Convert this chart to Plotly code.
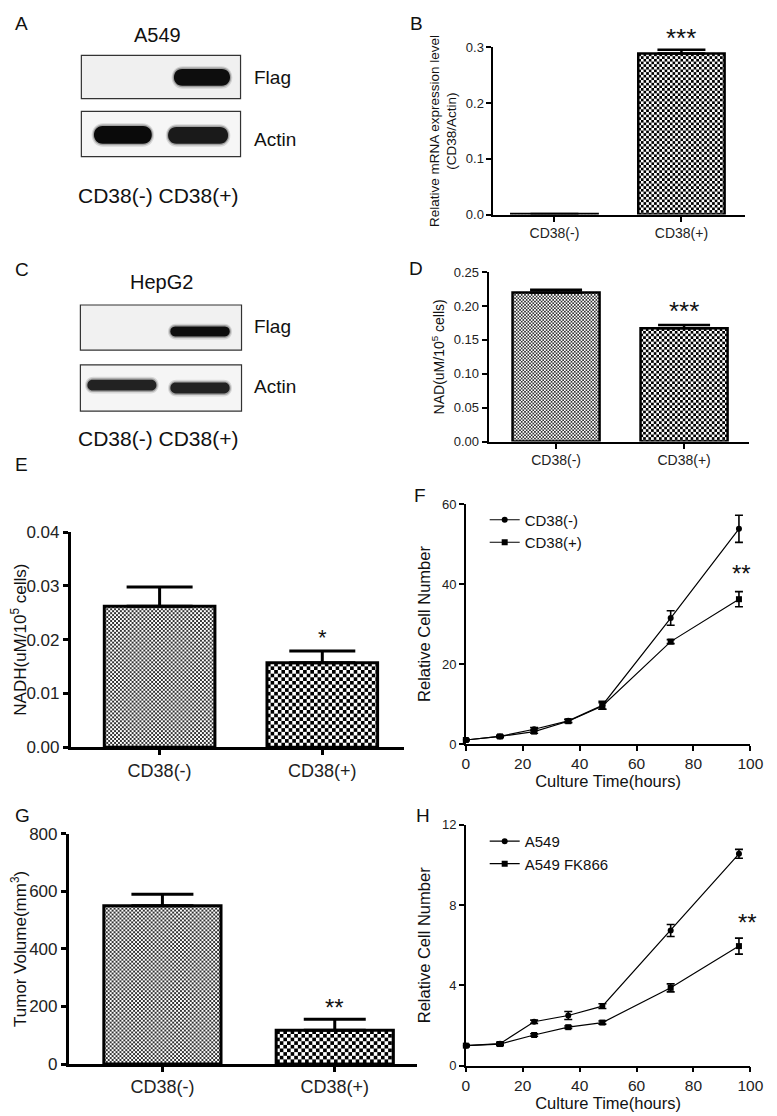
import base64
import plotly.graph_objects as go

# The page body keeps its default 8px margin, so the figure is sized to fill
# the remaining 769x1108 area; reference pixel positions are shifted by OFF.
OFF = 8
FIG_W, FIG_H = 777 - OFF, 1116 - OFF
FONT = "Liberation Sans, Arial, sans-serif"


def px_x(px):
    return (px - OFF) / FIG_W


def px_y(py):
    return 1 - (py - OFF) / FIG_H


# ---------------- data ----------------
categories = ["CD38(-)", "CD38(+)"]

# B: relative mRNA expression (CD38/Actin)
mrna = [0.001, 0.289]
mrna_err = [0.0, 0.007]

# D: NAD (uM/10^5 cells)
nad = [0.220, 0.167]
nad_err = [0.004, 0.005]

# E: NADH (uM/10^5 cells)
nadh = [0.0262, 0.0157]
nadh_err = [0.0036, 0.0022]

# G: tumor volume (mm^3)
tumor = [550, 117]
tumor_err = [40, 39]

# F: growth curves CD38(-)/CD38(+)
time_h = [0, 12, 24, 36, 48, 72, 96]
f_neg = [1.0, 1.9, 3.7, 5.8, 9.7, 31.5, 53.8]
f_neg_err = [0.2, 0.3, 0.4, 0.4, 1.0, 1.8, 3.4]
f_pos = [1.0, 1.9, 3.1, 5.7, 9.5, 25.6, 36.2]
f_pos_err = [0.2, 0.2, 0.4, 0.4, 0.8, 0.5, 1.9]

# H: growth curves A549 / A549 FK866
h_a549 = [1.0, 1.1, 2.19, 2.5, 2.97, 6.74, 10.56]
h_a549_err = [0.05, 0.05, 0.08, 0.2, 0.12, 0.3, 0.22]
h_fk = [1.0, 1.08, 1.53, 1.92, 2.15, 3.88, 5.96]
h_fk_err = [0.05, 0.08, 0.06, 0.06, 0.08, 0.2, 0.4]

line_names_f = ["CD38(-)", "CD38(+)"]
line_names_h = ["A549", "A549 FK866"]

BAR_W = 0.68

fig = go.Figure()
images = []

# ---------- axes geometry (reference pixels) ----------
# name: (left, right, top, bottom, xrange, yrange)
GEOM = {
    "B": (500, 758, 39, 209, [-0.48, 1.504], [0, 0.3]),
    "D": (495, 762, 267.5, 440, [-0.527, 1.51], [0, 0.25]),
    "E": (67, 408, 532, 751, [-0.547, 1.50], [0, 0.04]),
    "F": (471.7, 763, 503.5, 747.7, [0, 100], [0, 60]),
    "G": (65, 422, 839, 1073.3, [-0.544, 1.479], [0, 800]),
    "H": (471.7, 763, 830, 1075, [0, 100], [0, 12]),
}


def checker_src(pw, ph, cell, color):
    c2 = 2 * cell
    svg = (f"<svg xmlns='http://www.w3.org/2000/svg' width='{pw:.1f}' height='{ph:.1f}' "
           f"viewBox='0 0 {pw:.1f} {ph:.1f}' preserveAspectRatio='none'>"
           f"<defs><pattern id='p' width='{c2}' height='{c2}' patternUnits='userSpaceOnUse'>"
           f"<rect width='{c2}' height='{c2}' fill='white'/>"
           f"<rect width='{cell}' height='{cell}' fill='{color}'/>"
           f"<rect x='{cell}' y='{cell}' width='{cell}' height='{cell}' fill='{color}'/>"
           f"</pattern></defs><rect width='100%' height='100%' fill='url(#p)'/></svg>")
    return "data:image/svg+xml;base64," + base64.b64encode(svg.encode()).decode()


def add_bars(panel, vals, errs, xa, ya, lw, capw, thick, cells):
    l, r, t, b, xr, yr = GEOM[panel]
    pxu_x = (r - l) / (xr[1] - xr[0])
    pxu_y = (b - t) / (yr[1] - yr[0])
    xs = list(range(len(vals)))
    for i, v in enumerate(vals):
        pw = BAR_W * pxu_x
        ph = max(v * pxu_y, 1)
        cell, col = cells[i]
        images.append(dict(source=checker_src(pw, ph, cell, col), xref=xa, yref=ya,
                           x=xs[i] - BAR_W / 2, y=v, sizex=BAR_W, sizey=v,
                           xanchor="left", yanchor="top", sizing="stretch",
                           layer="below"))
    fig.add_trace(go.Bar(
        x=xs, y=vals, width=BAR_W, xaxis=xa, yaxis=ya,
        marker=dict(color="rgba(0,0,0,0)", line=dict(color="black", width=lw)),
        error_y=dict(type="data", symmetric=False, array=errs,
                     arrayminus=[0] * len(errs), color="black",
                     thickness=thick, width=capw),
        showlegend=False, cliponaxis=False,
    ))


small_cells = [(1.7, "#333"), (2.7, "#000")]
big_cells = [(2.0, "#333"), (3.7, "#000")]
add_bars("B", mrna, mrna_err, "x", "y", 2.5, 24, 2.5, small_cells)
add_bars("D", nad, nad_err, "x2", "y2", 2.5, 26, 2.5, small_cells)
add_bars("E", nadh, nadh_err, "x3", "y3", 3, 33, 3, big_cells)
add_bars("G", tumor, tumor_err, "x5", "y5", 3, 31, 3, big_cells)

# ---------- line panels ----------


def add_line(xv, yv, ev, name, sym, xa, ya, lg):
    fig.add_trace(go.Scatter(
        x=xv, y=yv, name=name, mode="lines+markers", xaxis=xa, yaxis=ya,
        line=dict(color="black", width=1.2),
        marker=dict(symbol=sym, size=6, color="black"),
        error_y=dict(type="data", array=ev, color="black", thickness=1.6, width=4),
        cliponaxis=False, legend=lg,
    ))


add_line(time_h, f_neg, f_neg_err, line_names_f[0], "circle", "x4", "y4", "legend")
add_line(time_h, f_pos, f_pos_err, line_names_f[1], "square", "x4", "y4", "legend")
add_line(time_h, h_a549, h_a549_err, line_names_h[0], "circle", "x6", "y6", "legend2")
add_line(time_h, h_fk, h_fk_err, line_names_h[1], "square", "x6", "y6", "legend2")

# ---------- axes ----------


def xax(panel, anchor, lw, fsize, **kw):
    l, r, t, b, xr, yr = GEOM[panel]
    d = dict(domain=[px_x(l), px_x(r)], anchor=anchor, range=xr,
             showline=True, linecolor="black", linewidth=lw, showgrid=False,
             zeroline=False, ticks="outside", ticklen=5, tickwidth=lw,
             tickcolor="black", tickfont=dict(size=fsize, color="#222"))
    d.update(kw)
    return d


def yax(panel, anchor, lw, fsize, **kw):
    l, r, t, b, xr, yr = GEOM[panel]
    d = dict(domain=[px_y(b), px_y(t)], anchor=anchor, range=yr,
             showline=True, linecolor="black", linewidth=lw, showgrid=False,
             zeroline=False, ticks="outside", ticklen=5, tickwidth=lw,
             tickcolor="black", tickfont=dict(size=fsize, color="#222"))
    d.update(kw)
    return d


cat_kw = dict(tickmode="array", tickvals=[0, 1], ticktext=categories)

layout_axes = dict(
    xaxis=xax("B", "y", 2, 14, **cat_kw),
    yaxis=yax("B", "x", 2, 13, dtick=0.1, tickformat=".1f",
              title=dict(text="Relative mRNA expression level<br>(CD38/Actin)",
                         font=dict(size=13.5), standoff=6)),
    xaxis2=xax("D", "y2", 2, 14, **cat_kw),
    yaxis2=yax("D", "x2", 2, 13, dtick=0.05, tickformat=".2f",
               title=dict(text="NAD(uM/10<sup>5</sup> cells)",
                          font=dict(size=14), standoff=6)),
    xaxis3=xax("E", "y3", 2.5, 18, **cat_kw),
    yaxis3=yax("E", "x3", 2.5, 17, dtick=0.01, tickformat=".2f",
               title=dict(text="NADH(uM/10<sup>5</sup> cells)",
                          font=dict(size=17), standoff=6)),
    xaxis4=xax("F", "y4", 1.5, 15.5, dtick=20,
               title=dict(text="Culture Time(hours)", font=dict(size=16.5), standoff=3)),
    yaxis4=yax("F", "x4", 1.5, 13, dtick=20,
               title=dict(text="Relative Cell Number", font=dict(size=16.5), standoff=7)),
    xaxis5=xax("G", "y5", 2.5, 18, **cat_kw),
    yaxis5=yax("G", "x5", 2.5, 17, dtick=200,
               title=dict(text="Tumor Volume(mm<sup>3</sup>)",
                          font=dict(size=17), standoff=9)),
    xaxis6=xax("H", "y6", 1.5, 15.5, dtick=20,
               title=dict(text="Culture Time(hours)", font=dict(size=16.5), standoff=3)),
    yaxis6=yax("H", "x6", 1.5, 13, dtick=4,
               title=dict(text="Relative Cell Number", font=dict(size=16.5), standoff=7)),
)

# ---------- annotations ----------
ann = []


def text(px, py, s, size, xanchor="left", yanchor="middle", **kw):
    d = dict(x=px_x(px), y=px_y(py), xref="paper", yref="paper", text=s,
             showarrow=False, xanchor=xanchor, yanchor=yanchor,
             font=dict(size=size, color="#111", family=FONT))
    d.update(kw)
    ann.append(d)


# panel letters
for letter, (lx, ly) in {"A": (8, 15), "B": (412, 15), "C": (8, 265), "D": (411, 264),
                         "E": (8, 463), "F": (417, 495), "G": (8, 820), "H": (419, 820)}.items():
    text(lx, ly, letter, 19)

# western blots text
text(156, 26, "A549", 20, xanchor="center")
text(253, 70, "Flag", 19)
text(253, 133, "Actin", 19)
text(156, 190, "CD38(-) CD38(+)", 21, xanchor="center")
text(160, 278, "HepG2", 20, xanchor="center")
text(253, 323, "Flag", 19)
text(253, 384, "Actin", 19)
text(156, 437, "CD38(-) CD38(+)", 21, xanchor="center")

# significance stars (placed above the error bars, in data coordinates)


def star(xa, ya, xv, yv, s, size, shift):
    ann.append(dict(x=xv, y=yv, xref=xa, yref=ya, text=s, showarrow=False,
                    xanchor="center", yanchor="middle", yshift=shift,
                    font=dict(size=size, color="#111", family=FONT)))


star("x", "y", 1, mrna[1] + mrna_err[1], "***", 26, 12)
star("x2", "y2", 1, nad[1] + nad_err[1], "***", 26, 14)
star("x3", "y3", 1, nadh[1] + nadh_err[1], "*", 22, 13)
star("x5", "y5", 1, tumor[1] + tumor_err[1], "**", 24, 12)
star("x4", "y4", 97, 44.3, "**", 24, -7)
star("x6", "y6", 99, 7.64, "**", 24, -10)

# ---------- western blot shapes ----------
shapes = []


def box(l, t, r, b, fill):
    shapes.append(dict(type="rect", xref="paper", yref="paper",
                       x0=px_x(l), x1=px_x(r), y0=px_y(b), y1=px_y(t),
                       line=dict(color="#333", width=1.2), fillcolor=fill, layer="above"))


def band(l, t, r, b, color, opacity=1.0):
    rx = (b - t) * 0.6
    X = px_x
    Y = px_y
    path = (f"M{X(l + rx)},{Y(t)} L{X(r - rx)},{Y(t)} "
            f"C{X(r + rx * 0.1)},{Y(t)} {X(r + rx * 0.1)},{Y(b)} {X(r - rx)},{Y(b)} "
            f"L{X(l + rx)},{Y(b)} "
            f"C{X(l - rx * 0.1)},{Y(b)} {X(l - rx * 0.1)},{Y(t)} {X(l + rx)},{Y(t)} Z")
    shapes.append(dict(type="path", xref="paper", yref="paper", path=path,
                       line=dict(width=0), fillcolor=color, opacity=opacity, layer="above"))


def soft_band(l, t, r, b, color):
    band(l - 3, t - 3, r + 3, b + 3, "#000", 0.12)
    band(l - 1.5, t - 1.5, r + 1.5, b + 1.5, "#000", 0.25)
    band(l, t, r, b, color)


# A549
box(78, 47, 241, 91, "#f0f0f0")
soft_band(171, 61, 232, 78, "#0d0d0d")
box(78, 104, 241, 150, "#f6f6f6")
soft_band(89, 119, 152, 137, "#0a0a0a")
soft_band(165, 120, 230, 137, "#1a1a1a")
# HepG2
box(77, 301, 242, 347, "#f1f1f1")
soft_band(168, 323, 231, 333, "#0d0d0d")
box(77, 362, 242, 409, "#f5f5f5")
soft_band(83, 377, 156, 388, "#222")
soft_band(168, 380, 231, 391, "#222")

fig.update_layout(
    width=FIG_W, height=FIG_H, margin=dict(l=0, r=0, t=0, b=0),
    paper_bgcolor="white", plot_bgcolor="rgba(0,0,0,0)",
    font=dict(family=FONT, color="#111"),
    barmode="overlay",
    annotations=ann, shapes=shapes, images=images,
    legend=dict(x=px_x(491), y=px_y(503), xanchor="left", yanchor="top",
                font=dict(size=15), bgcolor="rgba(0,0,0,0)", itemwidth=30,
                tracegroupgap=0),
    legend2=dict(x=px_x(491), y=px_y(830), xanchor="left", yanchor="top",
                 font=dict(size=15), bgcolor="rgba(0,0,0,0)", itemwidth=30,
                 tracegroupgap=0),
    **layout_axes,
)

fig.write_html("out.html", config={"displayModeBar": False})
